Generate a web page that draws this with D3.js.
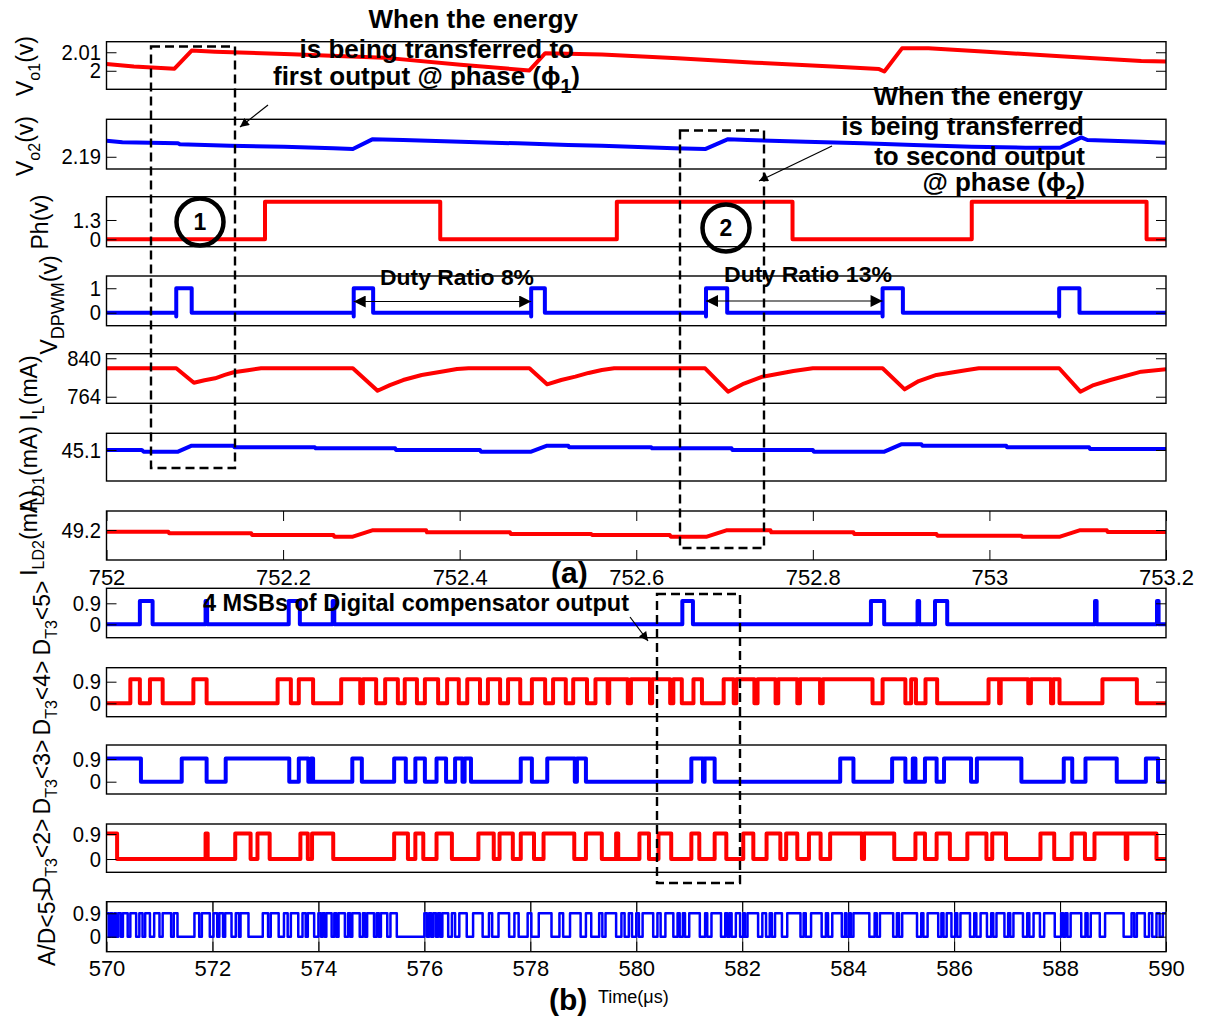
<!DOCTYPE html>
<html>
<head>
<meta charset="utf-8">
<script src="https://cdn.jsdelivr.net/npm/d3@7"></script>
<style>
  body { margin: 0; background: #fff; }
  svg text { font-family: "Liberation Sans", Arial, Helvetica, sans-serif; }
</style>
</head>
<body>
<svg id="chart" width="1206" height="1017"></svg>
<script>
// ---------------- (a) converter waveforms, time in µs ----------------
const ticksA = [752, 752.2, 752.4, 752.6, 752.8, 753, 753.2];

const vo1Time  = [752.000, 752.031, 752.077, 752.0965, 752.123, 752.21, 752.314, 752.401, 752.479, 752.497, 752.561, 752.647, 752.735, 752.822, 752.875, 752.881, 752.901, 752.931, 752.997, 753.085, 753.172, 753.2];
const vo1Volts = [2.0036, 2.0023, 2.0011, 2.0109, 2.0103, 2.0089, 2.0071, 2.0032, 2.0002, 2.0095, 2.0088, 2.0068, 2.0044, 2.0023, 2.0009, 1.9996, 2.0121, 2.0121, 2.0103, 2.0077, 2.0053, 2.0050];

const vo2Time  = [752.000, 752.018, 752.081, 752.083, 752.14, 752.201, 752.257, 752.279, 752.301, 752.336, 752.401, 752.466, 752.523, 752.561, 752.643, 752.678, 752.704, 752.726, 752.792, 752.857, 752.914, 752.980, 753.041, 753.080, 753.104, 753.111, 753.172, 753.2];
const vo2Volts = [2.1980, 2.1972, 2.1967, 2.1962, 2.1955, 2.1950, 2.1942, 2.19385, 2.1987, 2.19835, 2.1975, 2.1967, 2.19585, 2.1955, 2.1942, 2.19385, 2.1988, 2.19835, 2.1975, 2.1967, 2.19585, 2.1950, 2.1945, 2.1945, 2.1997, 2.19835, 2.1975, 2.1970];

const phRise = [752.1795, 752.578, 752.980];
const phFall = [752.378, 752.777, 753.178];
const phLevels = [0, 2.53];

const dpwmOn  = [752.079, 752.280, 752.481, 752.679, 752.879, 753.079];
const dpwmOff = [752.0965, 752.302, 752.4965, 752.703, 752.902, 753.102];

const ilTime = [752.000, 752.079, 752.099, 752.111, 752.123, 752.134, 752.144, 752.16, 752.175, 752.279, 752.307, 752.321, 752.336, 752.357, 752.379, 752.397, 752.41, 752.479, 752.499, 752.515, 752.531, 752.546, 752.561, 752.575, 752.678, 752.704, 752.722, 752.743, 752.778, 752.80, 752.879, 752.904, 752.92, 752.94, 752.975, 752.988, 753.079, 753.103, 753.118, 753.137, 753.172, 753.2];
const ilMilliamps = [820.2, 820.2, 791.7, 796.5, 800.4, 807, 812.3, 816.5, 820.2, 820.2, 775.9, 787, 797, 807, 813.5, 818.8, 820.2, 820.2, 788.5, 797, 803.6, 811, 816.8, 820.2, 820.2, 773.9, 790, 803.6, 814.9, 820.2, 820.2, 778.6, 795, 807, 816.8, 820.2, 820.2, 773.9, 787, 797, 813.5, 818.5];

const ild1Time = [752.0, 752.04, 752.042, 752.081, 752.0965, 752.144, 752.145, 752.236, 752.237, 752.327, 752.328, 752.423, 752.424, 752.481, 752.499, 752.523, 752.524, 752.617, 752.618, 752.708, 752.709, 752.8, 752.801, 752.881, 752.9, 752.923, 752.924, 753.019, 753.02, 753.113, 753.114, 753.2];
const ild1Milliamps = [45.1, 45.1, 45.0967, 45.0967, 45.1087, 45.1087, 45.1053, 45.1053, 45.1033, 45.1033, 45.1, 45.1, 45.0967, 45.0967, 45.1087, 45.1087, 45.1053, 45.1053, 45.1033, 45.1033, 45.1, 45.1, 45.0967, 45.0967, 45.1113, 45.1113, 45.1087, 45.1087, 45.1053, 45.1053, 45.102, 45.102];

const ild2Time = [752.0, 752.07, 752.071, 752.164, 752.165, 752.257, 752.258, 752.279, 752.301, 752.362, 752.363, 752.457, 752.458, 752.549, 752.55, 752.638, 752.639, 752.68, 752.702, 752.752, 752.753, 752.846, 752.847, 752.94, 752.941, 753.036, 753.037, 753.08, 753.102, 753.133, 753.134, 753.2];
const ild2Milliamps = [49.1967, 49.1967, 49.1933, 49.1933, 49.19, 49.19, 49.1867, 49.1867, 49.1993, 49.1993, 49.1953, 49.1953, 49.192, 49.192, 49.19, 49.19, 49.1867, 49.1867, 49.1993, 49.1993, 49.1953, 49.1953, 49.192, 49.192, 49.1887, 49.1887, 49.1867, 49.1867, 49.1993, 49.1993, 49.196, 49.196];

// ---------------- (b) digital words, time in µs, [rise, fall] pairs ----------------
const ticksB = [570, 572, 574, 576, 578, 580, 582, 584, 586, 588, 590];

const dt5High = [[570.63,570.87],[571.87,571.90],[573.44,573.65],[574.27,574.30],[580.87,581.07],[584.43,584.68],[585.31,585.34],[585.64,585.87],[588.66,588.69],[589.83,589.86]];

const dt4High = [[570.45,570.63],[570.82,571.06],[571.64,571.89],[573.23,573.48],[573.63,573.90],
  [574.43,574.79],[574.84,575.09],[575.26,575.50],[575.63,575.86],[576.01,576.26],[576.43,576.65],[576.81,577.05],[577.20,577.43],[577.58,577.81],[578.03,578.28],[578.43,578.67],[578.81,579.07],[579.23,579.46],[579.49,579.84],[579.90,580.26],[580.30,580.64],[580.70,580.86],[581.08,581.24],[581.65,581.84],[581.89,582.23],[582.29,582.63],[582.68,583.04],[583.09,583.47],[583.52,584.46],[584.65,585.08],[585.19,585.28],[585.46,585.68],[586.65,586.85],[586.88,587.40],[587.45,587.83],[587.87,587.99],[588.80,589.45]];

const dt3High = [[570.0,570.65],[571.42,571.89],[572.25,573.45],[573.63,573.81],[573.86,573.90],[574.64,574.82],[575.43,575.65],[575.83,576.01],[576.23,576.41],[576.58,576.72],[576.76,576.88],[577.82,578.03],[578.32,578.84],[578.88,579.05],[581.04,581.26],[581.29,581.48],[583.85,584.10],[584.83,585.08],[585.22,585.27],[585.45,585.67],[585.81,586.32],[586.43,587.27],[588.07,588.23],[588.48,589.07],[589.62,589.85]];

const dt2High = [[570.0,570.2],[571.87,571.91],[572.43,572.72],[572.85,573.08],[573.66,573.80],[573.88,574.28],[575.43,575.69],[575.83,575.98],[576.23,576.52],[577.02,577.31],[577.42,577.67],[577.82,578.07],[578.25,578.83],[579.05,579.35],[579.62,579.66],[580.06,580.24],[580.42,580.66],[581.04,581.19],[581.48,581.70],[582.02,582.21],[582.46,582.72],[582.83,583.04],[583.26,583.48],[583.66,584.26],[584.30,584.87],[585.27,585.45],[585.67,585.92],[586.25,586.61],[586.72,586.98],[587.63,587.89],[588.22,588.47],[588.65,589.24],[589.27,589.82]];

const adHigh = [[570.00,570.04],[570.07,570.11],[570.15,570.18],[570.22,570.27],[570.31,570.40],[570.45,570.56],[570.62,570.68],[570.73,570.82],[570.90,571.00],[571.06,571.22],[571.27,571.34],[571.66,571.75],[571.80,571.95],
  [572.02,572.09],[572.13,572.20],[572.24,572.36],[572.44,572.50],[572.53,572.68],[572.95,573.05],[573.10,573.25],[573.35,573.42],[573.48,573.62],[573.70,573.76],[573.80,573.92],
  [574.00,574.05],[574.08,574.12],[574.15,574.25],[574.30,574.34],[574.38,574.50],[574.56,574.60],[574.64,574.78],[574.84,574.88],[574.92,575.05],[575.10,575.14],[575.18,575.30],[575.36,575.48],
  [576.00,576.05],[576.09,576.13],[576.17,576.22],[576.26,576.30],[576.34,576.45],[576.52,576.58],[576.66,576.80],[576.92,577.10],[577.22,577.28],[577.40,577.60],[577.70,577.78],[577.95,578.02],[578.16,578.40],[578.55,578.62],[578.75,578.95],[579.05,579.15],[579.30,579.36],[579.42,579.62],[579.72,579.78],[579.86,579.92],
  [580.00,580.05],[580.12,580.32],[580.40,580.46],[580.55,580.70],[580.78,580.82],[580.88,580.92],[581.00,581.20],[581.30,581.34],[581.42,581.60],[581.68,581.72],[581.76,581.80],[581.88,581.96],
  [582.02,582.05],[582.10,582.30],[582.38,582.45],[582.52,582.56],[582.62,582.75],[582.85,583.10],[583.16,583.20],[583.30,583.50],[583.58,583.62],[583.70,583.88],[583.94,583.97],
  [584.02,584.05],[584.10,584.40],[584.50,584.54],[584.60,584.85],[584.92,584.96],[585.02,585.30],[585.38,585.42],[585.50,585.70],[585.76,585.80],[585.86,585.95],
  [586.02,586.06],[586.12,586.30],[586.38,586.42],[586.50,586.62],[586.70,586.74],[586.80,586.95],[587.02,587.06],[587.12,587.30],[587.38,587.42],[587.50,587.62],[587.70,587.90],
  [588.02,588.06],[588.10,588.14],[588.20,588.40],[588.48,588.52],[588.58,588.75],[588.85,589.20],[589.35,589.40],[589.45,589.60],[589.68,589.74],[589.82,589.88],[589.94,590.0]];

// ---------------- drawing ----------------
const RED = "#ff0000", BLUE = "#0000ff";
const FONT = '"Liberation Sans", Arial, Helvetica, sans-serif';
const W = 1206, H = 1017, X0 = 106.5, X1 = 1166;

const svg = d3.select("#chart");
svg.append("rect").attr("width", W).attr("height", H).attr("fill", "#fff");
const defs = svg.append("defs");

const xA = d3.scaleLinear().domain([752, 753.2]).range([X0, X1]);
const xB = d3.scaleLinear().domain([570, 590]).range([X0, X1]);

const zip = (t, v) => t.map((d, i) => [d, v[i]]);

// square wave from [rise, fall] pairs
function pulses(pairs, t0, t1, lo, hi) {
  const pts = [];
  if (!(pairs.length && pairs[0][0] <= t0)) pts.push([t0, lo]);
  pairs.forEach(([s, e]) => {
    if (s > t0) pts.push([s, lo]);
    pts.push([s, hi], [e, hi]);
    if (e < t1) pts.push([e, lo]);
  });
  const last = pts[pts.length - 1];
  if (last[0] < t1) pts.push([t1, last[1]]);
  return pts;
}

const phPairs = phRise.map((r, i) => [r, phFall[i]]);
// PWM output with the short undershoot at every rising edge
const dpwmPts = [[752, 0]];
dpwmOn.forEach((s, i) => {
  dpwmPts.push([s, 0], [s, -0.15], [s, 1], [dpwmOff[i], 1], [dpwmOff[i], 0]);
});
dpwmPts.push([753.2, 0]);

let clipCount = 0;
function drawPanel(p) {
  const y = d3.scaleLinear().domain(p.domain).range([p.bottom, p.top]);
  const g = svg.append("g");
  const id = "clip" + (clipCount++);
  defs.append("clipPath").attr("id", id).append("rect")
    .attr("x", X0).attr("y", p.top).attr("width", X1 - X0).attr("height", p.bottom - p.top);

  if (p.grid) {
    const gg = g.append("g").attr("transform", `translate(0,${p.bottom})`)
      .call(d3.axisBottom(p.x).tickValues(p.grid).tickSize(-(p.bottom - p.top)).tickFormat(""));
    gg.select(".domain").remove();
    gg.selectAll(".tick line").attr("stroke", "#333").attr("stroke-width", 1);
  }

  const line = d3.line().x(d => p.x(d[0])).y(d => y(d[1]));
  g.append("path").datum(p.points).attr("clip-path", `url(#${id})`)
    .attr("d", line).attr("fill", "none").attr("stroke", p.color)
    .attr("stroke-width", p.lw || 4).attr("stroke-linejoin", "round").attr("stroke-linecap", "butt");

  g.append("rect").attr("x", X0).attr("y", p.top).attr("width", X1 - X0).attr("height", p.bottom - p.top)
    .attr("fill", "none").attr("stroke", "#000").attr("stroke-width", 1.4);

  const axL = g.append("g").attr("transform", `translate(${X0},0)`)
    .call(d3.axisLeft(y).tickValues(p.ticks).tickFormat(d => String(d)).tickSize(-10).tickPadding(6));
  const axR = g.append("g").attr("transform", `translate(${X1},0)`)
    .call(d3.axisRight(y).tickValues(p.ticks).tickFormat("").tickSize(-10));
  [axL, axR].forEach(a => {
    a.select(".domain").remove();
    a.attr("font-family", FONT).attr("font-size", 22);
    a.selectAll(".tick line").attr("stroke", "#000").attr("stroke-width", 1);
    a.selectAll("text").attr("fill", "#000").attr("transform", "scale(0.92,1)");
  });

  if (p.xticks) {
    const axB = g.append("g").attr("transform", `translate(0,${p.bottom})`)
      .call(d3.axisBottom(p.x).tickValues(p.xticks).tickFormat(d => String(+d.toFixed(1))).tickSize(-10).tickPadding(9));
    const axT = g.append("g").attr("transform", `translate(0,${p.top})`)
      .call(d3.axisTop(p.x).tickValues(p.xticks).tickFormat("").tickSize(-10));
    [axB, axT].forEach(a => {
      a.select(".domain").remove();
      a.attr("font-family", FONT).attr("font-size", 22);
      a.selectAll(".tick line").attr("stroke", "#000").attr("stroke-width", 1);
      a.selectAll("text").attr("fill", "#000");
    });
  }
}

const panels = [
  { x: xA, top: 41.7, bottom: 89.3, domain: [1.990, 2.0157], ticks: [2, 2.01], color: RED, points: zip(vo1Time, vo1Volts) },
  { x: xA, top: 119.3, bottom: 169, domain: [2.1839, 2.2087], ticks: [2.19], color: BLUE, points: zip(vo2Time, vo2Volts) },
  { x: xA, top: 196.7, bottom: 246.7, domain: [-0.5, 2.87], ticks: [0, 1.3], color: RED, points: pulses(phPairs, 752, 753.2, phLevels[0], phLevels[1]) },
  { x: xA, top: 276, bottom: 325.7, domain: [-0.53, 1.5], ticks: [0, 1], color: BLUE, points: dpwmPts },
  { x: xA, top: 353.7, bottom: 403.3, domain: [751, 849], ticks: [764, 840], color: RED, points: zip(ilTime, ilMilliamps) },
  { x: xA, top: 433.3, bottom: 481, domain: [45.038, 45.1334], ticks: [45.1], color: BLUE, points: zip(ild1Time, ild1Milliamps) },
  { x: xA, top: 511, bottom: 560, domain: [49.14, 49.238], ticks: [49.2], color: RED, points: zip(ild2Time, ild2Milliamps), xticks: ticksA },
  { x: xB, top: 588.3, bottom: 637.7, domain: [-0.574, 1.543], ticks: [0, 0.9], color: BLUE, points: pulses(dt5High, 570, 590, 0, 1.0) },
  { x: xB, top: 667.7, bottom: 716.7, domain: [-0.558, 1.483], ticks: [0, 0.9], color: RED, points: pulses(dt4High, 570, 590, 0, 1.0) },
  { x: xB, top: 745, bottom: 794, domain: [-0.488, 1.456], ticks: [0, 0.9], color: BLUE, points: pulses(dt3High, 570, 590, 0, 0.92) },
  { x: xB, top: 824, bottom: 872.3, domain: [-0.478, 1.26], ticks: [0, 0.9], color: RED, points: pulses(dt2High, 570, 590, 0, 0.92) },
  { x: xB, top: 901.7, bottom: 951.7, domain: [-0.577, 1.346], ticks: [0, 0.9], color: BLUE, lw: 2.5, points: pulses(adHigh, 570, 590, 0, 0.9), xticks: ticksB, grid: ticksB.slice(1, -1) }
];
panels.forEach(drawPanel);

// ---------------- rotated axis titles with subscripts ----------------
const yTitles = [
  { x: 33, y: 66,  parts: [["V"], ["o1", 1], ["(v)"]] },
  { x: 33, y: 146, parts: [["V"], ["o2", 1], ["(v)"]] },
  { x: 48, y: 222, parts: [["Ph(v)"]] },
  { x: 57, y: 305, parts: [["V"], ["DPWM", 1], ["(v)"]], sub: 18 },
  { x: 37, y: 388, parts: [["I"], ["L", 1], ["(mA)"]] },
  { x: 37, y: 469, parts: [["I"], ["LD1", 1], ["(mA)"]] },
  { x: 37, y: 533, parts: [["I"], ["LD2", 1], ["(mA)"]] },
  { x: 50, y: 618, parts: [["D"], ["T3", 1], ["<5>"]] },
  { x: 50, y: 698, parts: [["D"], ["T3", 1], ["<4>"]] },
  { x: 50, y: 777, parts: [["D"], ["T3", 1], ["<3>"]] },
  { x: 50, y: 856, parts: [["D"], ["T3", 1], ["<2>"]] },
  { x: 55, y: 927, parts: [["A/D<5>"]] }
];
yTitles.forEach(t => {
  const txt = svg.append("text").attr("transform", `translate(${t.x},${t.y}) rotate(-90)`)
    .attr("text-anchor", "middle").attr("font-size", 23).attr("fill", "#000");
  let shifted = false;
  t.parts.forEach(([s, sub]) => {
    const ts = txt.append("tspan").text(s);
    if (sub) { ts.attr("font-size", t.sub || 16).attr("dy", 7); shifted = true; }
    else if (shifted) { ts.attr("dy", -7); shifted = false; }
  });
});

// ---------------- annotations ----------------
const mk = (id, w, h) => defs.append("marker").attr("id", id)
  .attr("viewBox", "0 0 10 10").attr("refX", 10).attr("refY", 5)
  .attr("markerUnits", "userSpaceOnUse").attr("markerWidth", w).attr("markerHeight", h)
  .attr("orient", "auto-start-reverse")
  .append("path").attr("d", "M0,0 L10,5 L0,10 z").attr("fill", "#000");
mk("headBig", 16, 12);
mk("headSmall", 13, 9);

const ann = svg.append("g");

// dashed highlight windows
[[151, 46.5, 235, 468], [680, 130.5, 764, 548], [657, 594, 740, 883]].forEach(([x1, y1, x2, y2]) => {
  ann.append("rect").attr("x", x1).attr("y", y1).attr("width", x2 - x1).attr("height", y2 - y1)
    .attr("fill", "none").attr("stroke", "#000").attr("stroke-width", 2.4).attr("stroke-dasharray", "9,5");
});

// pointer arrows
[[268, 105, 240, 127], [832, 146, 759, 181], [630, 617, 648, 641]].forEach(([a, b, c, d]) => {
  ann.append("line").attr("x1", a).attr("y1", b).attr("x2", c).attr("y2", d)
    .attr("stroke", "#000").attr("stroke-width", 1.2).attr("marker-end", "url(#headSmall)");
});

// period arrows between PWM pulses
[[xA(dpwmOn[1]), xA(dpwmOn[2]), 301.5], [xA(dpwmOn[3]), xA(dpwmOn[4]), 301]].forEach(([a, b, yy]) => {
  ann.append("line").attr("x1", a).attr("y1", yy).attr("x2", b).attr("y2", yy)
    .attr("stroke", "#000").attr("stroke-width", 1.2)
    .attr("marker-start", "url(#headBig)").attr("marker-end", "url(#headBig)");
});

// numbered circles
[[200, 222, "1"], [726, 228, "2"]].forEach(([cx, cy, s]) => {
  ann.append("circle").attr("cx", cx).attr("cy", cy).attr("r", 23.5)
    .attr("fill", "none").attr("stroke", "#000").attr("stroke-width", 4.5);
  ann.append("text").attr("x", cx).attr("y", cy + 8).attr("text-anchor", "middle")
    .attr("font-size", 23).attr("font-weight", "bold").text(s);
});

function boldLine(x, y, size, anchor, parts, len) {
  const t = ann.append("text").attr("x", x).attr("y", y).attr("text-anchor", anchor)
    .attr("font-size", size).attr("font-weight", "bold").attr("fill", "#000");
  if (len) t.attr("textLength", len).attr("lengthAdjust", "spacingAndGlyphs");
  parts.forEach(([s, sub]) => {
    const ts = t.append("tspan").text(s);
    if (sub === 1) ts.attr("font-size", size * 0.75).attr("dy", 8);
    if (sub === -1) ts.attr("dy", -8);
  });
  return t;
}

boldLine(578, 28, 26, "end", [["When the energy"]]);
boldLine(574, 58, 26, "end", [["is being transferred to"]]);
boldLine(580, 85, 26, "end", [["first output @ phase (\u03d5"], ["1", 1], [")", -1]]);

boldLine(1083, 105, 26, "end", [["When the energy"]]);
boldLine(1084, 135, 26, "end", [["is being transferred"]]);
boldLine(1085, 165, 26, "end", [["to second output"]]);
boldLine(1085, 191, 26, "end", [["@ phase (\u03d5"], ["2", 1], [")", -1]]);

boldLine(380, 285, 22, "start", [["Duty Ratio 8%"]], 154);
boldLine(724, 282, 22, "start", [["Duty Ratio 13%"]], 168);
boldLine(203, 611, 23, "start", [["4 MSBs of Digital compensator output"]], 426);

ann.append("text").attr("x", 551).attr("y", 583).attr("font-size", 30).attr("font-weight", "bold").text("(a)");
ann.append("text").attr("x", 549).attr("y", 1010).attr("font-size", 30).attr("font-weight", "bold").text("(b)");
ann.append("text").attr("x", 598).attr("y", 1003).attr("font-size", 18).text("Time(\u03bcs)");
</script>
</body>
</html>
